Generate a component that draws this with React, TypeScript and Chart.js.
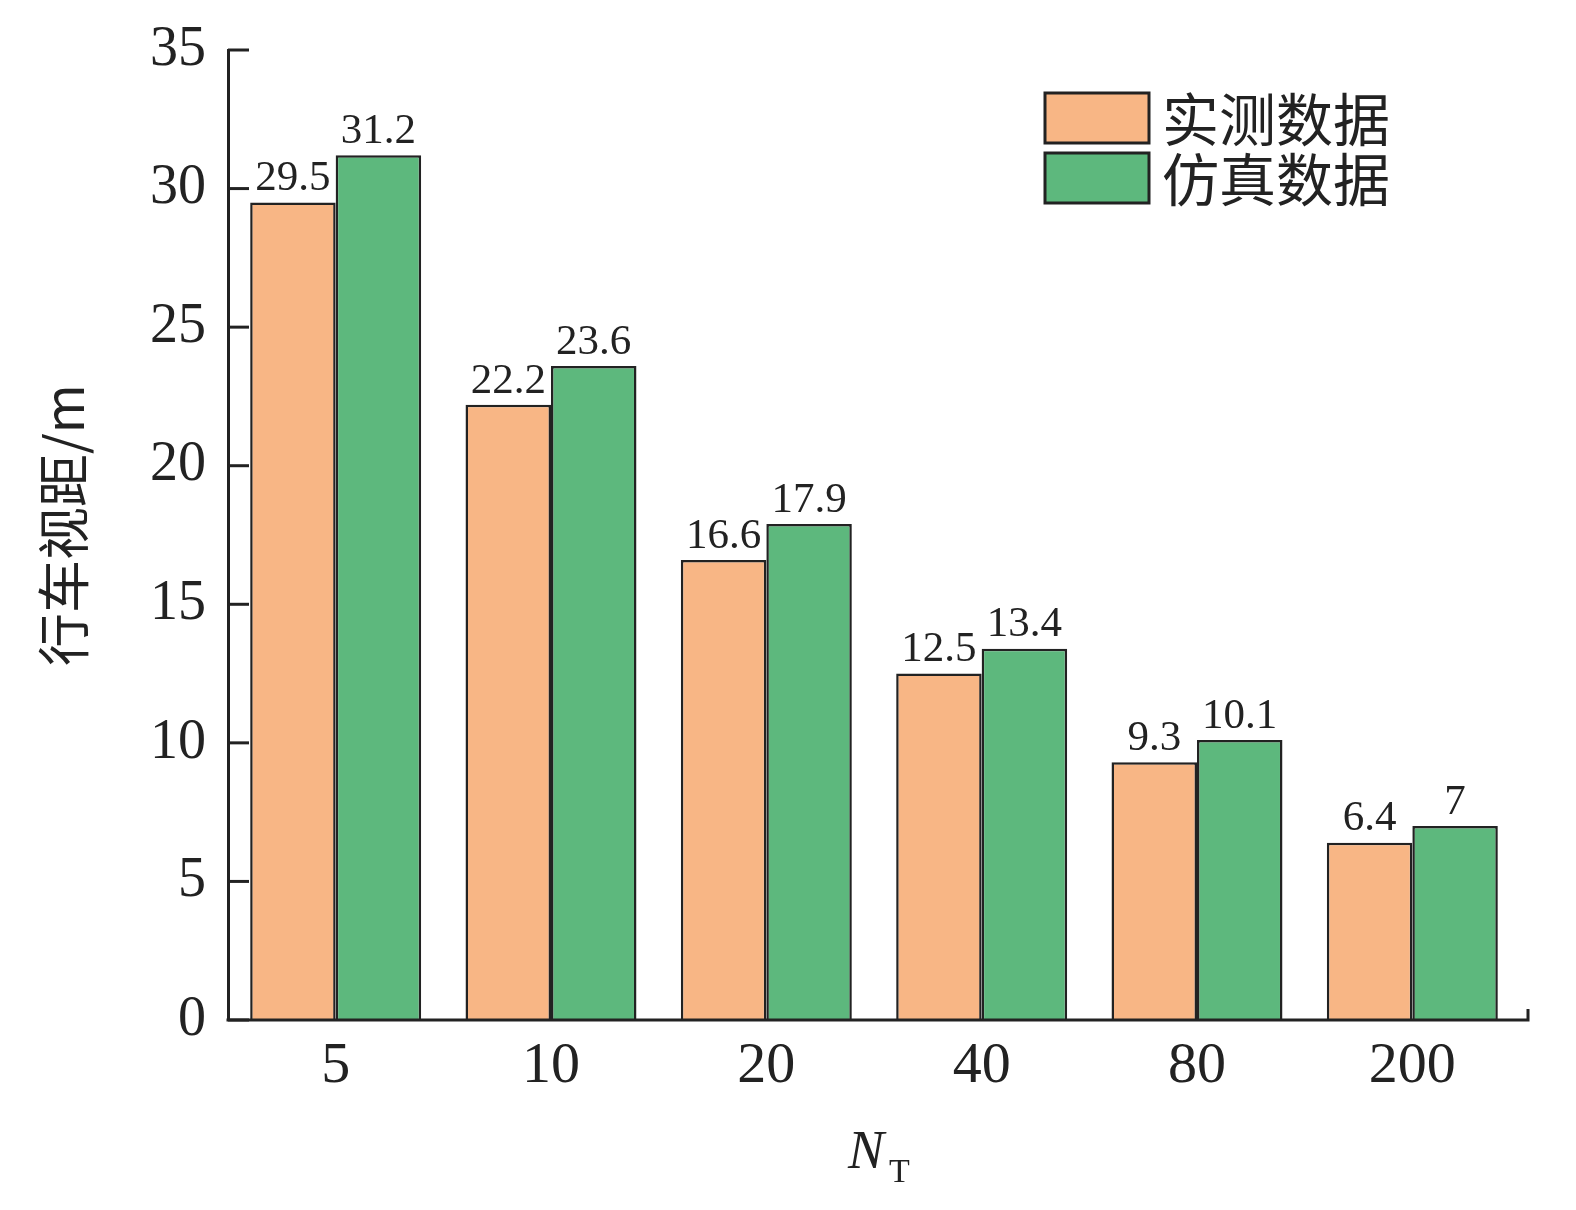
import React, { useEffect, useRef } from "react";
import { Chart, registerables } from "chart.js";

Chart.register(...registerables);

const categories = ["5", "10", "20", "40", "80", "200"];
const measured = [29.5, 22.2, 16.6, 12.5, 9.3, 6.4];
const simulated = [31.2, 23.6, 17.9, 13.4, 10.1, 7];
const seriesNames = ["实测数据", "仿真数据"];
const yTitle = "行车视距/m";
const xTitleMain = "N";
const xTitleSub = "T";

const SERIF = "'Liberation Serif', 'Times New Roman', serif";
const CJK = "'Noto Sans CJK SC', 'Noto Sans', sans-serif";
const INK = "#222222";

const overlayPlugin = {
  id: "overlay",
  afterDatasetsDraw(chart: any) {
    const { ctx, chartArea, scales } = chart;
    const y = scales.y;
    ctx.save();
    // inward y ticks
    ctx.strokeStyle = INK;
    ctx.lineWidth = 3;
    y.ticks.forEach((t: any) => {
      const py = y.getPixelForValue(t.value);
      ctx.beginPath();
      ctx.moveTo(chartArea.left, py);
      ctx.lineTo(chartArea.left + 21, py);
      ctx.stroke();
    });
    // x axis line with end tick
    const by = chartArea.bottom;
    ctx.beginPath();
    ctx.moveTo(chartArea.left - 1.5, by);
    ctx.lineTo(chartArea.right + 8, by);
    ctx.lineTo(chartArea.right + 8, by - 11);
    ctx.stroke();

    // value labels
    ctx.fillStyle = INK;
    ctx.font = `43px ${SERIF}`;
    ctx.textAlign = "center";
    ctx.textBaseline = "bottom";
    chart.data.datasets.forEach((ds: any, di: number) => {
      const meta = chart.getDatasetMeta(di);
      meta.data.forEach((bar: any, i: number) => {
        ctx.fillText(String(ds.data[i]), bar.x, bar.y - 2);
      });
    });

    // legend
    chart.data.datasets.forEach((ds: any, di: number) => {
      const bx = 1045;
      const byy = 93 + di * 60;
      ctx.fillStyle = ds.backgroundColor;
      ctx.fillRect(bx, byy, 104, 50);
      ctx.strokeStyle = INK;
      ctx.lineWidth = 3;
      ctx.strokeRect(bx, byy, 104, 50);
      ctx.fillStyle = INK;
      ctx.font = `57px ${CJK}`;
      ctx.textAlign = "left";
      ctx.textBaseline = "middle";
      ctx.fillText(ds.label, 1162, byy + 26);
    });

    // y title
    ctx.save();
    ctx.translate(64, 525);
    ctx.rotate(-Math.PI / 2);
    ctx.font = `53px ${CJK}`;
    ctx.textAlign = "center";
    ctx.textBaseline = "middle";
    ctx.fillStyle = INK;
    ctx.fillText(yTitle, 0, 0);
    ctx.restore();

    // x title
    ctx.fillStyle = INK;
    ctx.font = `italic 54px ${SERIF}`;
    ctx.textAlign = "left";
    ctx.textBaseline = "alphabetic";
    ctx.fillText(xTitleMain, 848, 1168);
    ctx.font = `34px ${SERIF}`;
    ctx.fillText(xTitleSub, 889, 1182);
    ctx.restore();
  },
};

export default function App() {
  const ref = useRef<HTMLCanvasElement | null>(null);
  useEffect(() => {
    if (!ref.current) return;
    const chart = new Chart(ref.current, {
      type: "bar",
      data: {
        labels: categories,
        datasets: [
          {
            label: seriesNames[0],
            data: measured,
            backgroundColor: "#F8B685",
            borderColor: INK,
            borderWidth: 2.5,
          },
          {
            label: seriesNames[1],
            data: simulated,
            backgroundColor: "#5DB87D",
            borderColor: INK,
            borderWidth: 2.5,
          },
        ],
      },
      options: {
        responsive: false,
        animation: false,
        devicePixelRatio: 1,
        layout: { padding: { left: 0, top: 36, right: 56, bottom: 0 } },
        datasets: { bar: { categoryPercentage: 0.794, barPercentage: 1 } },
        plugins: {
          legend: { display: false },
          tooltip: { enabled: false },
          title: { display: false },
        },
        scales: {
          x: {
            grid: { display: false, drawTicks: false },
            border: { display: false },
            ticks: {
              color: INK,
              font: { family: SERIF, size: 58 },
              padding: 12,
            },
            afterFit(scale: any) {
              scale.height = 190;
            },
          },
          y: {
            min: 0,
            max: 35,
            grid: { display: false, drawTicks: false },
            border: { display: true, color: INK, width: 3 },
            ticks: {
              stepSize: 5,
              color: INK,
              font: { family: SERIF, size: 56, lineHeight: 1 },
              padding: 22,
            },
            afterFit(scale: any) {
              scale.width = 228;
            },
          },
        },
      },
      plugins: [overlayPlugin],
    });
    return () => chart.destroy();
  }, []);
  return (
    <div style={{ position: "absolute", left: 0, top: 0, width: 1576, height: 1210, background: "#fff" }}>
      <canvas ref={ref} width={1576} height={1210} style={{ width: 1576, height: 1210 }} />
    </div>
  );
}
